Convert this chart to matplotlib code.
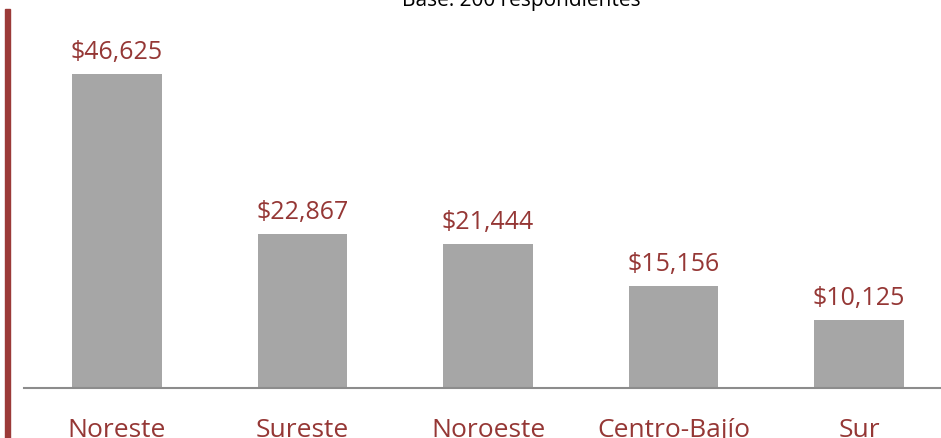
import matplotlib
matplotlib.use("Agg")
import matplotlib.pyplot as plt
from matplotlib.patches import Rectangle

categories = ["Noreste", "Sureste", "Noroeste", "Centro-Bajío", "Sur"]
values = [46625, 22867, 21444, 15156, 10125]
value_labels = ["$46,625", "$22,867", "$21,444", "$15,156", "$10,125"]
subtitle = "Base: 200 respondientes"

W, H = 941, 439
fig = plt.figure(figsize=(W / 100, H / 100), dpi=100)
plt.rcParams['font.family'] = ['Open Sans', 'DejaVu Sans']

red = "#953735"
left_px, right_px, base_px = 24.25, 951.75, 389
ax = fig.add_axes([left_px / W, (H - base_px) / H, (right_px - left_px) / W, base_px / H])
ax.set_xlim(-0.5, len(categories) - 0.5)
ax.set_ylim(0, 57760)
ax.bar(range(len(categories)), values, width=0.485, color="#A6A6A6", zorder=2)
for s in ["top", "right", "left"]:
    ax.spines[s].set_visible(False)
ax.spines["bottom"].set_color("#8C8C8C")
ax.spines["bottom"].set_linewidth(1.5)
ax.set_yticks([])
ax.set_xticks([])
for i, cat in enumerate(categories):
    ax.annotate(cat, (i, 0), xycoords=("data", "axes fraction"), xytext=(0, -34.6),
                textcoords="offset points", ha="center", va="baseline",
                fontsize=19, color=red, annotation_clip=False)
for i, (v, lab) in enumerate(zip(values, value_labels)):
    ax.annotate(lab, (i, v), xytext=(0, 11.5), textcoords="offset points",
                ha="center", va="baseline", fontsize=18, color=red)

# red vertical bar at left edge
fig.patches.append(Rectangle((5 / W, 0), 5 / W, (H - 10) / H, transform=fig.transFigure,
                             color="#9B3A38", zorder=5))
fig.text(521 / W, 1 - 6 / H, subtitle, ha="center", va="baseline", fontsize=15, color="#000000")

fig.savefig("out.png", dpi=100)
